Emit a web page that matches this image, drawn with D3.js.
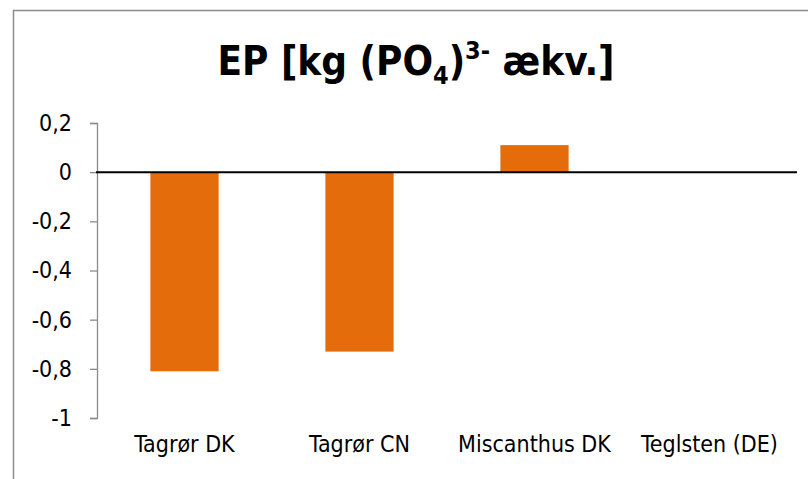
<!DOCTYPE html>
<html>
<head>
<meta charset="utf-8">
<script src="https://cdn.jsdelivr.net/npm/d3@7"></script>
<style>
  body { margin: 0; background: #fff; }
  svg { font-family: "DejaVu Sans Condensed", sans-serif; }
</style>
</head>
<body>
<div id="chart"></div>
<script>
// chart data
var categories = ["Tagrør DK", "Tagrør CN", "Miscanthus DK", "Teglsten (DE)"];
var values = [-0.81, -0.73, 0.11, 0];
var yTicks = [0.2, 0, -0.2, -0.4, -0.6, -0.8, -1];

var width = 808, height = 479;
var fontFam = "'DejaVu Sans Condensed', sans-serif";

var svg = d3.select("#chart").append("svg")
            .attr("width", width)
            .attr("height", height);

// chart frame (cut off at the right and bottom)
svg.append("path")
   .attr("d", "M13.5," + height + "V10.5H" + width)
   .style("fill", "none")
   .style("stroke", "#8c8c8c")
   .style("stroke-width", 1.5);

// title with sub/superscript
var title = svg.append("text")
               .attr("x", 416)
               .attr("y", 75)
               .attr("text-anchor", "middle")
               .style("font-size", "40px")
               .style("font-weight", "bold")
               .style("fill", "#000");
title.append("tspan").text("EP [kg (PO");
title.append("tspan").attr("dy", 9).style("font-size", "25px").text("4");
title.append("tspan").attr("dy", -9).text(")");
title.append("tspan").attr("dy", -16).style("font-size", "25px").text("3-");
title.append("tspan").attr("dy", 16).text(" ækv.]");

var yScale = d3.scaleLinear()
               .domain([-1, 0.2])
               .range([418, 123]);

var xScale = d3.scaleBand()
               .domain(categories)
               .range([97, 797])
               .padding(0);

var barW = xScale.bandwidth() * 0.39;

var loc = d3.formatLocale({decimal: ",", thousands: ".", grouping: [3], currency: ["", ""], minus: "-"});
var fmt = loc.format("");

// y axis
var yAxis = d3.axisLeft(yScale)
              .tickValues(yTicks)
              .tickFormat(fmt)
              .tickSizeInner(7)
              .tickSizeOuter(7)
              .tickPadding(18);

var gy = svg.append("g")
            .attr("transform", "translate(97,0)")
            .call(yAxis);
gy.attr("font-family", fontFam).attr("font-size", 23);
gy.select(".domain").style("stroke", "#8c8c8c").style("stroke-width", 1.3);
gy.selectAll(".tick line").style("stroke", "#8c8c8c").style("stroke-width", 1.3);
gy.selectAll(".tick text")
  .style("font-size", "23px")
  .style("fill", "#000");

// bars
svg.selectAll("rect.bar")
   .data(values)
   .enter()
   .append("rect")
   .attr("class", "bar")
   .attr("x", function(d, i) { return xScale(categories[i]) + (xScale.bandwidth() - barW) / 2; })
   .attr("y", function(d) { return yScale(Math.max(0, d)); })
   .attr("width", barW)
   .attr("height", function(d) { return Math.abs(yScale(d) - yScale(0)); })
   .style("fill", "#e46c0a");

// zero line
svg.append("line")
   .attr("x1", 96)
   .attr("x2", 797)
   .attr("y1", yScale(0))
   .attr("y2", yScale(0))
   .style("stroke", "#000")
   .style("stroke-width", 2);

// category labels
svg.selectAll("text.cat")
   .data(categories)
   .enter()
   .append("text")
   .attr("class", "cat")
   .attr("x", function(d) { return xScale(d) + xScale.bandwidth() / 2; })
   .attr("y", 452)
   .attr("text-anchor", "middle")
   .style("font-size", "23px")
   .style("fill", "#000")
   .text(function(d) { return d; });
</script>
</body>
</html>
